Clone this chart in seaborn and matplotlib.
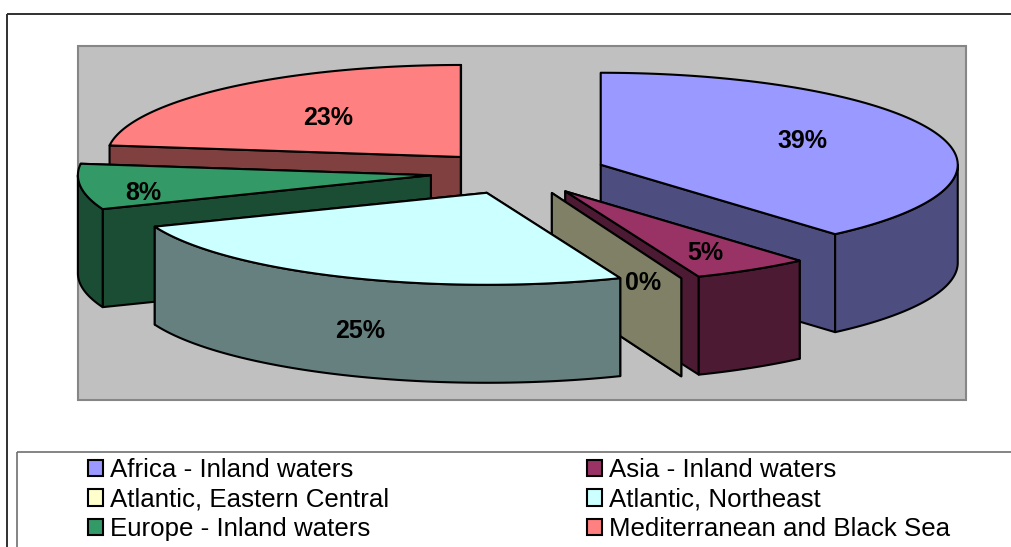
import numpy as np
import pandas as pd
import seaborn as sns
import matplotlib
matplotlib.use("Agg")
import matplotlib.pyplot as plt
from matplotlib.patches import Polygon, Rectangle

# Share of catches per fishing area, in percent
areas = ["Africa - Inland waters", "Asia - Inland waters", "Atlantic, Eastern Central",
         "Atlantic, Northeast", "Europe - Inland waters", "Mediterranean and Black Sea"]
shares = [38.6, 5.3, 0, 25.1, 8.0, 23.0]
top_colors = ["#9999ff", "#993366", "#ffffcc", "#ccffff", "#339966", "#ff8080"]

# Pie geometry in figure pixels
CENTER = (520.5, 172.5)
RADIUS_X = [357, 357, 346, 357, 353, 354]
RY = 92.0
DEPTH = 98.0
# Pull-out of each slice, as a fraction of the radius along each axis
EXPLODE_X = [0.24, 0.24, 0.235, 0.24, 0.253, 0.253]
EXPLODE_Y = [0.24, 0.24, 0.24, 0.24, 0.24, 0.225]
# Back-to-front painting order of the slices
PAINT_ORDER = [5, 4, 0, 1, 2, 3]
# Percentage label centres
LABEL_XY = [(802, 141), (705, 253), (643, 283), (360, 331), (143, 193), (328, 118)]

sns.set_theme(style="white", rc={"font.family": ["Liberation Sans", "DejaVu Sans"], "text.color": "black"})
palette = sns.color_palette(top_colors)

df = pd.DataFrame({"area": areas, "share": shares})
df["end"] = df["share"].cumsum() / df["share"].sum() * 2 * np.pi
df["start"] = df["end"].shift(1, fill_value=0.0)
df["mid"] = (df["start"] + df["end"]) / 2

fig = plt.figure(figsize=(10.11, 5.47), dpi=100, facecolor="white")
ax = fig.add_axes([0, 0, 1, 1])
ax.set_xlim(0, 1011)
ax.set_ylim(547, 0)
ax.axis("off")

LINE = dict(edgecolor="black", linewidth=1.5, joinstyle="round")


def rim(apex, rx, theta):
    """Point on the top ellipse, angle clockwise from twelve o'clock."""
    return np.column_stack([apex[0] + rx * np.sin(theta), apex[1] - RY * np.cos(theta)])


# Chart frame, plot wall and legend frame
ax.add_patch(Rectangle((7, 14), 1100, 600, fill=False, edgecolor="#303030", linewidth=1.4))
ax.add_patch(Rectangle((77.5, 45.5), 888, 354.5, facecolor="#c0c0c0", edgecolor="#868686", linewidth=1.5))
ax.add_patch(Rectangle((17, 452), 1100, 200, fill=False, edgecolor="#707070", linewidth=1.2))

for i in PAINT_ORDER:
    row = df.iloc[i]
    rx = RADIUS_X[i]
    top = np.array(palette[i])
    side = top * 0.5
    apex = (CENTER[0] + EXPLODE_X[i] * 357 * np.sin(row["mid"]),
            CENTER[1] - EXPLODE_Y[i] * RY * np.cos(row["mid"]))

    # Radial cut faces, the one further back first
    cuts = sorted([row["start"], row["end"]], key=lambda t: rim(apex, rx, np.array([t]))[0, 1])
    for t in cuts:
        p = rim(apex, rx, np.array([t]))[0]
        ax.add_patch(Polygon([apex, p, p + [0, DEPTH], (apex[0], apex[1] + DEPTH)],
                             facecolor=side, **LINE))

    # Visible part of the curved outer wall
    lo, hi = max(row["start"], np.pi / 2), min(row["end"], 3 * np.pi / 2)
    if hi > lo:
        arc = rim(apex, rx, np.linspace(lo, hi, 90))
        ax.add_patch(Polygon(np.vstack([arc, arc[::-1] + [0, DEPTH]]), facecolor=side, **LINE))

    # Top face
    if row["share"] > 0:
        arc = rim(apex, rx, np.linspace(row["start"], row["end"], 180))
        ax.add_patch(Polygon(np.vstack([[apex], arc]), facecolor=top, **LINE))

for (x, y), v in zip(LABEL_XY, shares):
    ax.text(x, y, f"{v:.0f}%", ha="center", va="center", fontsize=18,
            fontweight="bold", color="black", zorder=10)

# Legend, filled column by column so it reads row by row
handles = [Rectangle((0, 0), 1, 1, facecolor=c, edgecolor="black", linewidth=1.5) for c in palette]
order = list(range(0, 6, 2)) + list(range(1, 6, 2))
ax.legend([handles[i] for i in order], [areas[i] for i in order], ncol=2, frameon=False,
          loc="upper left", bbox_to_anchor=(82 / 1011, 1 - 452 / 547), borderaxespad=0, borderpad=0.25,
          fontsize=18.6, handlelength=0.58, handleheight=0.58, handletextpad=0.27,
          labelspacing=0.2, columnspacing=7.66)

fig.savefig("out.png", dpi=100)
